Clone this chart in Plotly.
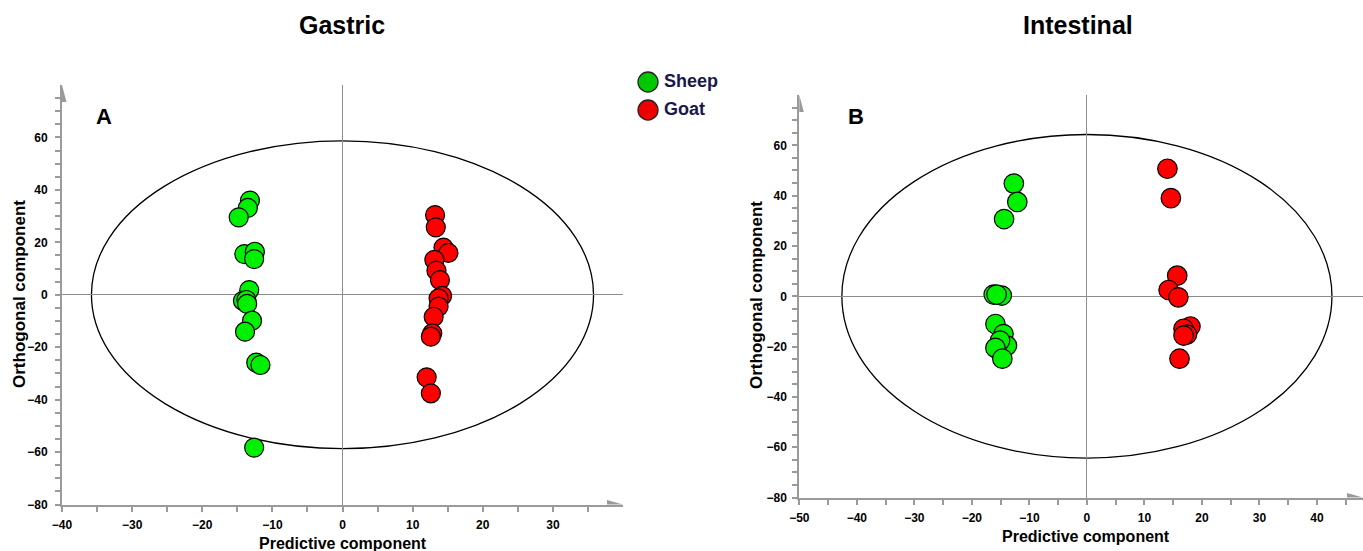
import numpy as np
import plotly.graph_objects as go

# ---------------- data ----------------
# Panel A (Gastric)
gastric_sheep_x = [-13.2, -13.5, -14.8, -14.0, -12.5, -12.6, -13.3, -14.2, -13.7, -13.6, -12.9, -13.9, -12.3, -11.7, -12.6]
gastric_sheep_y = [35.9, 33.1, 29.5, 15.5, 16.4, 13.6, 1.8, -2.3, -2.0, -3.5, -9.9, -14.1, -25.9, -26.8, -58.3]
gastric_goat_x = [13.2, 13.3, 14.4, 15.1, 13.1, 13.4, 13.9, 14.2, 13.7, 13.7, 13.0, 12.8, 12.6, 12.0, 12.6]
gastric_goat_y = [30.4, 25.7, 18.0, 16.0, 13.3, 9.2, 5.6, -0.4, -1.4, -4.5, -8.4, -14.7, -16.0, -31.5, -37.6]
# Panel B (Intestinal)
intestinal_sheep_x = [-12.7, -12.1, -14.4, -16.2, -14.8, -15.7, -15.9, -14.5, -13.9, -15.1, -15.9, -14.7]
intestinal_sheep_y = [44.8, 37.5, 30.7, 0.7, 0.3, 0.7, -11.0, -15.0, -19.6, -17.6, -20.5, -24.8]
intestinal_goat_x = [14.0, 14.6, 15.7, 14.2, 15.9, 18.0, 16.8, 17.4, 16.8, 16.1]
intestinal_goat_y = [50.7, 39.0, 8.2, 2.5, -0.4, -12.0, -12.9, -15.2, -15.6, -24.8]

# Hotelling T2 ellipse semi-axes
gastric_ellipse = (35.8, 58.7)
intestinal_ellipse = (42.6, 64.3)

panel_titles = ["Gastric", "Intestinal"]
panel_letters = ["A", "B"]
legend_labels = ["Sheep", "Goat"]

x_ticks_a = [-40, -30, -20, -10, 0, 10, 20, 30]
x_ticks_b = [-50, -40, -30, -20, -10, 0, 10, 20, 30, 40]
y_ticks = [-80, -60, -40, -20, 0, 20, 40, 60]

# ---------------- style ----------------
W, H = 1363, 551
GREEN = "#00f000"
RED = "#ff0000"
AXIS_GREY = "#9a9a9a"
FONT = "Liberation Sans, Arial, sans-serif"

def px_x(p):
    return p / W

def px_y(p):
    return 1 - p / H

fig = go.Figure()

def add_pts(x, y, color, xa, ya, size):
    fig.add_trace(go.Scatter(
        x=x, y=y, mode="markers", xaxis=xa, yaxis=ya, showlegend=False,
        marker=dict(size=size, color=color, line=dict(color="black", width=1.2)),
        hoverinfo="x+y"))

add_pts(gastric_sheep_x, gastric_sheep_y, GREEN, "x", "y", 19)
add_pts(gastric_goat_x, gastric_goat_y, RED, "x", "y", 19)
add_pts(intestinal_sheep_x, intestinal_sheep_y, GREEN, "x2", "y2", 19.5)
add_pts(intestinal_goat_x, intestinal_goat_y, RED, "x2", "y2", 19.5)

tickfont = dict(family=FONT, size=12, color="black", weight="bold")

def axis_cfg(domain, rng, ticks, anchor, standoff):
    minor_vals = [float(v) for v in np.arange(rng[0], rng[1], 5) if v not in ticks]
    return dict(domain=domain, range=rng, anchor=anchor, automargin=False,
                tickmode="array", tickvals=ticks,
                ticks="outside", ticklen=5, tickwidth=2, tickcolor=AXIS_GREY,
                showline=True, linecolor=AXIS_GREY, linewidth=2,
                showgrid=False, zeroline=True, zerolinecolor="#8c8c8c", zerolinewidth=1.3,
                tickfont=tickfont, ticklabelstandoff=standoff,
                minor=dict(tickmode="array", tickvals=minor_vals, ticks="outside",
                           ticklen=5, tickwidth=2, tickcolor=AXIS_GREY, showgrid=False))

xa_rng = [-40, 40]
xb_rng = [-50, 48]
y_rng = [-80, 80]

fig.update_layout(
    width=W, height=H, margin=dict(l=0, r=0, t=0, b=0, autoexpand=False),
    paper_bgcolor="white", plot_bgcolor="white", showlegend=False,
    xaxis=axis_cfg([px_x(62), px_x(623)], xa_rng, x_ticks_a, "y", 3),
    yaxis=axis_cfg([px_y(504.5), px_y(85)], y_rng, y_ticks, "x", 5),
    xaxis2=axis_cfg([px_x(799.3), 1.0], xb_rng, x_ticks_b, "y2", 3),
    yaxis2=axis_cfg([px_y(497.6), px_y(95)], y_rng, y_ticks, "x2", 3),
)

shapes = []
# ellipses
for (a, b), xr, yr in [(gastric_ellipse, "x", "y"), (intestinal_ellipse, "x2", "y2")]:
    shapes.append(dict(type="circle", xref=xr, yref=yr, x0=-a, x1=a, y0=-b, y1=b,
                       line=dict(color="black", width=1.3), layer="below"))
# arrow heads on axes
for xr, yr, xr_rng in [("x", "y", xa_rng), ("x2", "y2", xb_rng)]:
    shapes.append(dict(type="path", xref=xr, yref=yr, xsizemode="pixel", ysizemode="pixel",
                       xanchor=xr_rng[1], yanchor=y_rng[0],
                       path="M0,0 L-16,-4.5 L-16,4.5 Z", fillcolor=AXIS_GREY, line=dict(width=0)))
    shapes.append(dict(type="path", xref=xr, yref=yr, xsizemode="pixel", ysizemode="pixel",
                       xanchor=xr_rng[0], yanchor=y_rng[1],
                       path="M0,0 L-4.5,-17 L4.5,-17 Z", fillcolor=AXIS_GREY, line=dict(width=0)))
# legend markers
for cy, col in [(82, "#00c800"), (110, "#ee0000")]:
    r = 10
    shapes.append(dict(type="circle", xref="paper", yref="paper",
                       x0=px_x(648 - r), x1=px_x(648 + r), y0=px_y(cy + r), y1=px_y(cy - r),
                       fillcolor=col, line=dict(color="#222222", width=1.3)))
fig.update_layout(shapes=shapes)

ann = []
for t, cx in zip(panel_titles, [342, 1078]):
    ann.append(dict(text=t, x=px_x(cx), y=px_y(25), xref="paper", yref="paper",
                    showarrow=False, xanchor="center", yanchor="middle",
                    font=dict(family=FONT, size=25, color="black", weight="bold")))
for t, cx, cy in zip(panel_letters, [104, 856], [116, 116]):
    ann.append(dict(text=t, x=px_x(cx), y=px_y(cy), xref="paper", yref="paper",
                    showarrow=False, xanchor="center", yanchor="middle",
                    font=dict(family=FONT, size=22, color="black", weight="bold")))
for cx, cy in [(343, 543), (1086, 536)]:
    ann.append(dict(text="Predictive component", x=px_x(cx), y=px_y(cy), xref="paper", yref="paper",
                    showarrow=False, xanchor="center", yanchor="middle",
                    font=dict(family=FONT, size=16, color="black", weight="bold")))
for cx, cy in [(19, 294), (756, 295)]:
    ann.append(dict(text="Orthogonal component", x=px_x(cx), y=px_y(cy), xref="paper", yref="paper",
                    showarrow=False, xanchor="center", yanchor="middle", textangle=-90,
                    font=dict(family=FONT, size=17, color="black", weight="bold")))
for t, cy in zip(legend_labels, [81, 109]):
    ann.append(dict(text=t, x=px_x(662), y=px_y(cy), xref="paper", yref="paper",
                    showarrow=False, xanchor="left", yanchor="middle",
                    font=dict(family=FONT, size=18, color="#18184a", weight="bold")))
fig.update_layout(annotations=ann)

fig.write_html("out.html")
